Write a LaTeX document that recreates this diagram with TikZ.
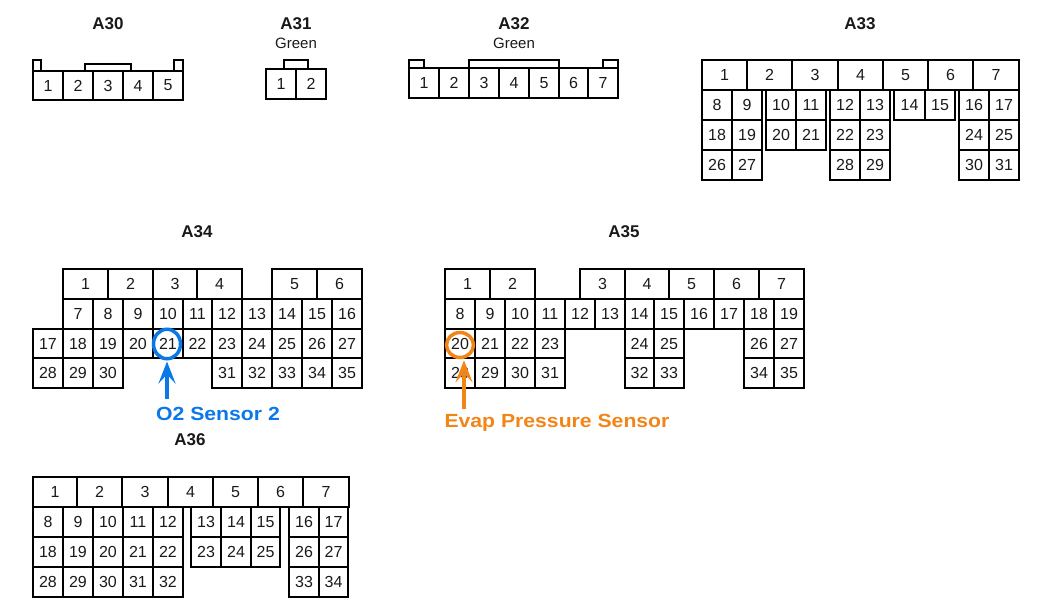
\documentclass[tikz,border=0pt]{standalone}
\usepackage{fontspec}
\setmainfont{Liberation Sans}
\usetikzlibrary{arrows.meta,shapes.geometric}
\definecolor{sensorblue}{HTML}{0A78E6}
\definecolor{sensororange}{HTML}{F28518}
\tikzset{
	pincell/.style={draw=black,line width=2pt,inner sep=0pt,text=black!90,font=\fontsize{16}{16}\selectfont},
	plugtab/.style={draw=black,line width=2pt},
	plugname/.style={inner sep=0pt,text=black!90,font=\fontsize{17}{17}\selectfont\bfseries},
	plugcolor/.style={inner sep=0pt,text=black!90,font=\fontsize{15}{15}\selectfont},
	sensorring/.style={draw=#1,ellipse,line width=3.5pt,inner sep=0pt,minimum width=27pt},
	sensorarrow/.style={draw=#1,line width=3.5pt,-{Stealth[length=22pt,width=17pt,inset=9pt]}},
	sensorname/.style={inner sep=0pt,text=#1,font=\fontsize{19}{19}\selectfont\bfseries\addfontfeature{FakeStretch=1.115}}
}
% one row of cells: name, top, bottom, then number/left/right
\newcommand{\pinrow}[4]{
	\foreach \n/\xa/\xb in {#4} {
		\pgfmathsetmacro{\wid}{\xb-\xa}
		\pgfmathsetmacro{\hgt}{#3-#2}
		\node[pincell,minimum width=\wid pt,minimum height=\hgt pt] (#1-\n) at ({(\xa+\xb)/2},{(#2+#3)/2}) {\n};
	}
}
\begin{document}
\begin{tikzpicture}[x=1pt,y=-1pt]
	\useasboundingbox (0,0) rectangle (1055,612);
	% titles
	\node[plugname] (a30) at (108,24) {A30};
	\node[plugname] (a31) at (296,24) {A31};
	\node[plugname] (a32) at (514,24) {A32};
	\node[plugname] (a33) at (860,24) {A33};
	\node[plugname] (a34) at (197,232) {A34};
	\node[plugname] (a35) at (624,232) {A35};
	\node[plugname] (a36) at (190,440) {A36};
	\node[plugcolor] (a31green) at (296,43) {Green};
	\node[plugcolor] (a32green) at (514,43) {Green};
	% tabs
	\draw[plugtab] (33,71) -- (33,60) -- (41,60) -- (41,71);
	\draw[plugtab] (85,71) -- (85,64) -- (131,64) -- (131,71);
	\draw[plugtab] (174,71) -- (174,60) -- (183,60) -- (183,71);
	\draw[plugtab] (284,69) -- (284,60) -- (308,60) -- (308,69);
	\draw[plugtab] (409,68) -- (409,60) -- (424,60) -- (424,68);
	\draw[plugtab] (469,68) -- (469,60) -- (559,60) -- (559,68);
	\draw[plugtab] (603,68) -- (603,60) -- (618,60) -- (618,68);
	% A30 to A32
	\pinrow{a30}{71}{100}{1/33/63,2/63/93,3/93/123,4/123/153,5/153/183}
	\pinrow{a31}{69}{99}{1/266/296,2/296/326}
	\pinrow{a32}{68}{98}{1/409/439,2/439/469,3/469/499,4/499/529,5/529/559,6/559/588,7/588/618}
	% A33
	\pinrow{a33}{60}{90}{1/702/747,2/747/792,3/792/838,4/838/883,5/883/928,6/928/973,7/973/1019}
	\pinrow{a33}{90}{120}{8/702/732,9/732/762,10/766/796,11/796/826,12/830/860,13/860/890,14/894/925,15/925/955,16/959/989,17/989/1019}
	\pinrow{a33}{120}{150}{18/702/732,19/732/762,20/766/796,21/796/826,22/830/860,23/860/890,24/959/989,25/989/1019}
	\pinrow{a33}{150}{180}{26/702/732,27/732/762,28/830/860,29/860/890,30/959/989,31/989/1019}
	% A34
	\pinrow{a34}{269}{299}{1/63/108,2/108/153,3/153/197,4/197/242,5/272/317,6/317/362}
	\pinrow{a34}{299}{329}{7/63/93,8/93/123,9/123/153,10/153/183,11/183/212,12/212/242,13/242/272,14/272/302,15/302/332,16/332/362}
	\pinrow{a34}{329}{358}{17/33/63,18/63/93,19/93/123,20/123/153,21/153/183,22/183/212,23/212/242,24/242/272,25/272/302,26/302/332,27/332/362}
	\pinrow{a34}{358}{388}{28/33/63,29/63/93,30/93/123,31/212/242,32/242/272,33/272/302,34/302/332,35/332/362}
	% A35
	\pinrow{a35}{269}{299}{1/445/490,2/490/535,3/580/625,4/625/669,5/669/714,6/714/759,7/759/804}
	\pinrow{a35}{299}{329}{8/445/475,9/475/505,10/505/535,11/535/565,12/565/595,13/595/625,14/625/654,15/654/684,16/684/714,17/714/744,18/744/774,19/774/804}
	\pinrow{a35}{329}{358}{20/445/475,21/475/505,22/505/535,23/535/565,24/625/654,25/654/684,26/744/774,27/774/804}
	\pinrow{a35}{358}{388}{28/445/475,29/475/505,30/505/535,31/535/565,32/625/654,33/654/684,34/744/774,35/774/804}
	% A36
	\pinrow{a36}{477}{507}{1/33/77,2/77/122,3/122/168,4/168/213,5/213/258,6/258/303,7/303/349}
	\pinrow{a36}{507}{537}{8/33/63,9/63/93,10/93/123,11/123/153,12/153/183,13/191/221,14/221/251,15/251/280,16/289/319,17/319/348}
	\pinrow{a36}{537}{567}{18/33/63,19/63/93,20/93/123,21/123/153,22/153/183,23/191/221,24/221/251,25/251/280,26/289/319,27/319/348}
	\pinrow{a36}{567}{597}{28/33/63,29/63/93,30/93/123,31/123/153,32/153/183,33/289/319,34/319/348}
	% sensors
	\node[sensorring=sensorblue,minimum height=29.5pt] (o2ring) at (167,344) {};
	\node[sensorring=sensororange,minimum height=25pt] (evapring) at (460,345) {};
	\coordinate (o2tail) at (167,399);
	\coordinate (evaptail) at (464,409);
	\draw[sensorarrow=sensorblue,shorten >=1pt] (o2tail) -- (o2ring);
	\draw[sensorarrow=sensororange,shorten >=1pt] (evaptail) -- (evapring.south -| evaptail);
	\node[sensorname=sensorblue] (o2name) at (218,414) {O2 Sensor 2};
	\node[sensorname=sensororange] (evapname) at (557,423) {Evap Pressure Sensor};
\end{tikzpicture}
\end{document}
